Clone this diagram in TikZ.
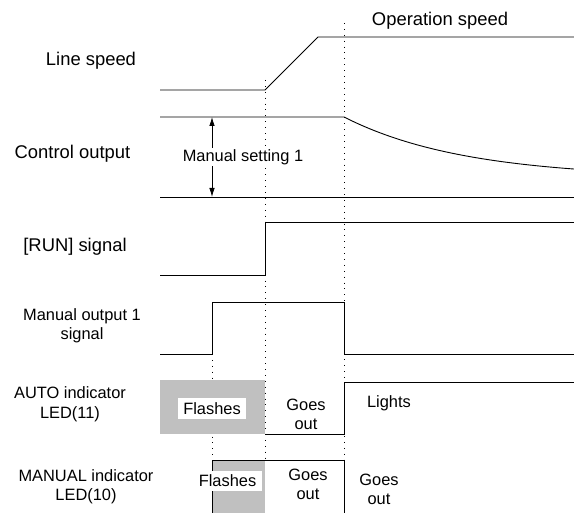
\documentclass[tikz,border=0pt]{standalone}
\usepackage{fontspec}
\setmainfont{Liberation Sans}
\usetikzlibrary{arrows.meta}
\definecolor{flashgray}{RGB}{192,192,192}
\begin{document}
\begin{tikzpicture}[x=1pt,y=-1pt,
  wave/.style={line width=0.9pt, line join=miter},
  guide/.style={line width=0.8pt, dash pattern=on 0.9pt off 5pt},
  biglabel/.style={font=\fontsize{18.4}{22}\selectfont, align=center, inner sep=0pt},
  smalllabel/.style={font=\fontsize{16.4}{19.5}\selectfont, align=center, inner sep=0pt},
  tag/.style={smalllabel, fill=white, inner xsep=5.5pt, inner ysep=4pt},
  dimarrow/.style={line width=0.8pt, {Latex[length=9pt,width=5.5pt]}-{Latex[length=9pt,width=5.5pt]}}]

\useasboundingbox (0,0) rectangle (574,513);

% time guides
\coordinate (g1t) at (212,354); \coordinate (g1b) at (212,460);
\coordinate (g2t) at (265,80);  \coordinate (g2b) at (265,460);
\coordinate (g3t) at (344,23);  \coordinate (g3b) at (344,460);
\draw[guide] (g1t) -- (g1b);
\draw[guide] (g2t) -- (g2b);
\draw[guide] (g3t) -- (g3b);

% grey flashing areas
\fill[flashgray] (160,380) rectangle (265,434);
\fill[flashgray] (212,460) rectangle (265,513);

% Line speed
\coordinate (ls0) at (160,90); \coordinate (ls1) at (265,90);
\coordinate (ls2) at (318,37); \coordinate (ls3) at (574,37);
\draw[wave] (ls0) -- (ls1) -- (ls2) -- (ls3);

% Control output
\coordinate (co0) at (160,117); \coordinate (co1) at (344,117);
\draw[wave] (co0) -- (co1) -- plot[domain=0:230,samples=80] ({344+\x},{117+61*(1-exp(-\x/120))});
\coordinate (cb0) at (160,197); \coordinate (cb1) at (574,197);
\draw[wave] (cb0) -- (cb1);
\coordinate (ar0) at (212,117); \coordinate (ar1) at (212,197);
\draw[dimarrow] (ar0) -- (ar1);
\node[smalllabel, fill=white, inner sep=1.5pt] (ms) at (243,157) {Manual setting 1};

% RUN signal
\coordinate (r0) at (160,275); \coordinate (r1) at (265,275);
\coordinate (r2) at (265,222); \coordinate (r3) at (574,222);
\draw[wave] (r0) -- (r1) -- (r2) -- (r3);

% Manual output 1 signal
\coordinate (m0) at (160,354); \coordinate (m1) at (212,354);
\coordinate (m2) at (212,302); \coordinate (m3) at (344,302);
\coordinate (m4) at (344,354); \coordinate (m5) at (574,354);
\draw[wave] (m0) -- (m1) -- (m2) -- (m3) -- (m4) -- (m5);

% AUTO LED
\coordinate (a0) at (265,434); \coordinate (a1) at (344,434);
\coordinate (a2) at (344,382); \coordinate (a3) at (574,382);
\draw[wave] (a0) -- (a1) -- (a2) -- (a3);

% MANUAL LED
\coordinate (n0) at (212,513); \coordinate (n1) at (212,460);
\coordinate (n2) at (344,460); \coordinate (n3) at (344,513);
\draw[wave] (n0) -- (n1) -- (n2) -- (n3);

% labels
\node[biglabel] (opspeed) at (440,21) {Operation speed};
\node[biglabel] (linespeed) at (91,61) {Line speed};
\node[biglabel] (ctrlout) at (72.5,154) {Control output};
\node[biglabel] (runsig) at (75,247) {[RUN] signal};
\node[smalllabel] (manout) at (82,326) {Manual output 1\\signal};
\node[smalllabel] (autoled) at (70,404.5) {AUTO indicator\\LED(11)};
\node[smalllabel] (manled) at (86,487) {MANUAL indicator\\LED(10)};

\node[tag] (flash1) at (212,408.5) {Flashes};
\node[smalllabel] (goes1) at (306,414.5) {Goes\\out};
\node[smalllabel] (lights) at (389,403) {Lights};
\node[tag] (flash2) at (227.5,481) {Flashes};
\node[smalllabel] (goes2) at (308,484.5) {Goes\\out};
\node[smalllabel] (goes3) at (379,489.5) {Goes\\out};
\end{tikzpicture}
\end{document}
